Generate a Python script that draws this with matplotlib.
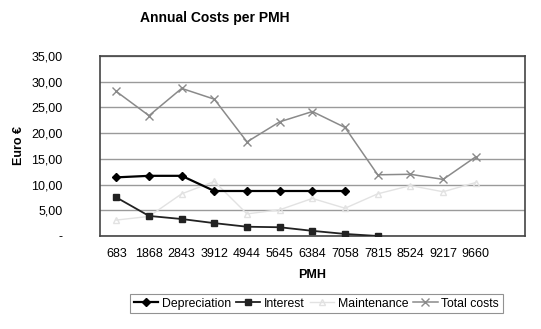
import numpy as np
from matplotlib import pyplot as plt
from matplotlib.ticker import FuncFormatter

pmh = ['683', '1868', '2843', '3912', '4944', '5645', '6384', '7058',
       '7815', '8524', '9217', '9660']
depreciation = [11.4, 11.7, 11.7, 8.75, 8.75, 8.75, 8.75, 8.75]
interest = [7.5, 3.9, 3.3, 2.5, 1.8, 1.7, 1.0, 0.4, 0.0]
maintenance = [3.1, 3.8, 8.2, 10.6, 4.3, 5.1, 7.3, 5.4, 8.2, 9.8, 8.6, 10.4]
total_costs = [28.1, 23.4, 28.7, 26.6, 18.3, 22.2, 24.2, 21.1, 11.9, 12.0, 11.0, 15.4]

plt.rcParams['font.family'] = ['Liberation Sans', 'DejaVu Sans']

fig = plt.figure(figsize=(5.41, 3.29), dpi=100)
ax = fig.add_axes([0.1848, 0.2827, 0.7852, 0.5471])

x = np.arange(len(pmh))
ax.plot(x[:len(depreciation)], depreciation, color='black', marker='D',
        markersize=4.5, lw=1.6, label='Depreciation', zorder=4)
ax.plot(x[:len(interest)], interest, color='#222222', marker='s',
        markersize=5, lw=1.3, label='Interest', zorder=4)
ax.plot(x, maintenance, color='#e2e2e2', marker='^', markersize=5,
        mfc='none', lw=1, label='Maintenance', zorder=3)
ax.plot(x, total_costs, color='#8a8a8a', marker='x', markersize=6,
        lw=1.1, label='Total costs', zorder=3)

ax.set_xlim(-0.5, 12.5)
ax.set_ylim(0, 35)
ax.set_yticks(np.arange(0, 36, 5))
ax.yaxis.set_major_formatter(FuncFormatter(
    lambda v, p: '-' if v == 0 else f'{v:.2f}'.replace('.', ',')))
ax.set_xticks(x)
ax.set_xticklabels(pmh)
ax.tick_params(length=0, labelsize=9, pad=9)
ax.tick_params(axis='y', pad=27)
ax.yaxis.grid(True, color='#9a9a9a', lw=1)
ax.set_axisbelow(True)
for s in ax.spines.values():
    s.set_color('#444444')
    s.set_linewidth(1.2)

ax.set_xlabel('PMH', fontsize=9, fontweight='bold', labelpad=6)
ax.set_ylabel('Euro €', fontsize=9, fontweight='bold', labelpad=4.5)
fig.text(0.397, 0.945, 'Annual Costs per PMH', ha='center', va='center',
         fontsize=10, fontweight='bold')

leg = fig.legend(loc='center', bbox_to_anchor=(0.585, 0.077), ncol=4,
                 fontsize=8.8, frameon=True, fancybox=False, handlelength=2.0,
                 columnspacing=0.4, handletextpad=0.3, borderpad=0.3)
leg.get_frame().set_edgecolor('#777777')
leg.get_frame().set_linewidth(0.8)

fig.savefig('out.png', dpi=100)
